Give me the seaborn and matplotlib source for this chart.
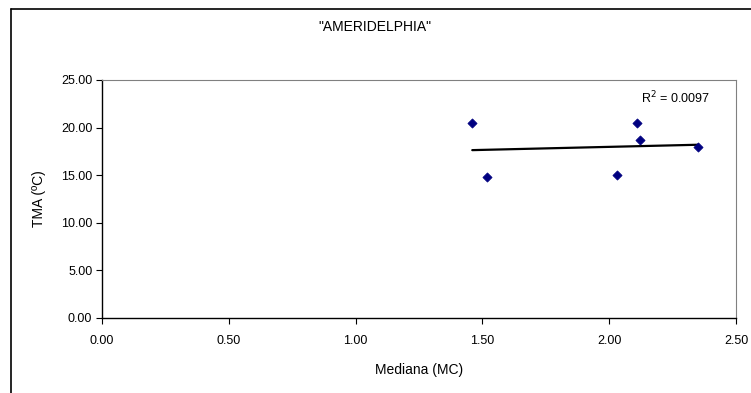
import numpy as np
import pandas as pd
import matplotlib
matplotlib.use("Agg")
import matplotlib.pyplot as plt
import seaborn as sns
from matplotlib.ticker import FormatStrFormatter
from matplotlib.lines import Line2D

# Data
mediana = [1.46, 1.52, 2.03, 2.11, 2.12, 2.35]
tma = [20.5, 14.85, 15.0, 20.5, 18.75, 18.0]
x_ticks = [0.0, 0.5, 1.0, 1.5, 2.0, 2.5]
y_ticks = [0, 5, 10, 15, 20, 25]
title = '"AMERIDELPHIA"'
r2_label = "R$^2$ = 0.0097"

df = pd.DataFrame({"Mediana (MC)": mediana, "TMA (ºC)": tma})

sns.set_style("white")
plt.rcParams["font.family"] = ["Liberation Sans", "DejaVu Sans"]
plt.rcParams["text.color"] = "black"
plt.rcParams["axes.labelcolor"] = "black"
plt.rcParams["xtick.color"] = "black"
plt.rcParams["ytick.color"] = "black"

fig = plt.figure(figsize=(7.51, 3.93), dpi=100)
ax = fig.add_axes([102 / 751, 1 - 318 / 393, (736 - 102) / 751, (318 - 80) / 393])

sns.regplot(data=df, x="Mediana (MC)", y="TMA (ºC)", ax=ax, ci=None, scatter=False,
            truncate=True, line_kws=dict(color="black", lw=1.6))
sns.scatterplot(data=df, x="Mediana (MC)", y="TMA (ºC)", ax=ax, marker="D", s=22,
                color="#000080", edgecolor="#000080", linewidth=0.5, zorder=3)

ax.set_xlim(0, 2.5)
ax.set_ylim(0, 25)
ax.set_xticks(x_ticks)
ax.set_yticks(y_ticks)
ax.xaxis.set_major_formatter(FormatStrFormatter("%.2f"))
ax.yaxis.set_major_formatter(FormatStrFormatter("%.2f"))
ax.tick_params(axis="both", direction="out", length=4, width=0.8, labelsize=9,
               bottom=True, left=True, color="black", labelcolor="black", pad=3)
ax.xaxis.set_tick_params(pad=8)
ax.set_xlabel("Mediana (MC)", fontsize=10, labelpad=12, color="black")
ax.set_ylabel("TMA (ºC)", fontsize=10, labelpad=11, color="black")
for side in ["left", "bottom"]:
    ax.spines[side].set_color("black")
    ax.spines[side].set_linewidth(1.0)
for side in ["top", "right"]:
    ax.spines[side].set_color("#808080")
    ax.spines[side].set_linewidth(0.8)

ax.text(0.905, 0.925, r2_label, transform=ax.transAxes, fontsize=9, ha="center", va="center",
        color="black")
fig.text(375 / 751, 1 - 27 / 393, title, fontsize=10, ha="center", va="center", color="black")

# outer chart frame
fx = 11 / 751
fy = 1 - 9 / 393
fig.add_artist(Line2D([fx, fx], [0, fy], transform=fig.transFigure, color="black", lw=1.2))
fig.add_artist(Line2D([fx, 1], [fy, fy], transform=fig.transFigure, color="black", lw=1.2))

fig.savefig("out.png", dpi=100)
